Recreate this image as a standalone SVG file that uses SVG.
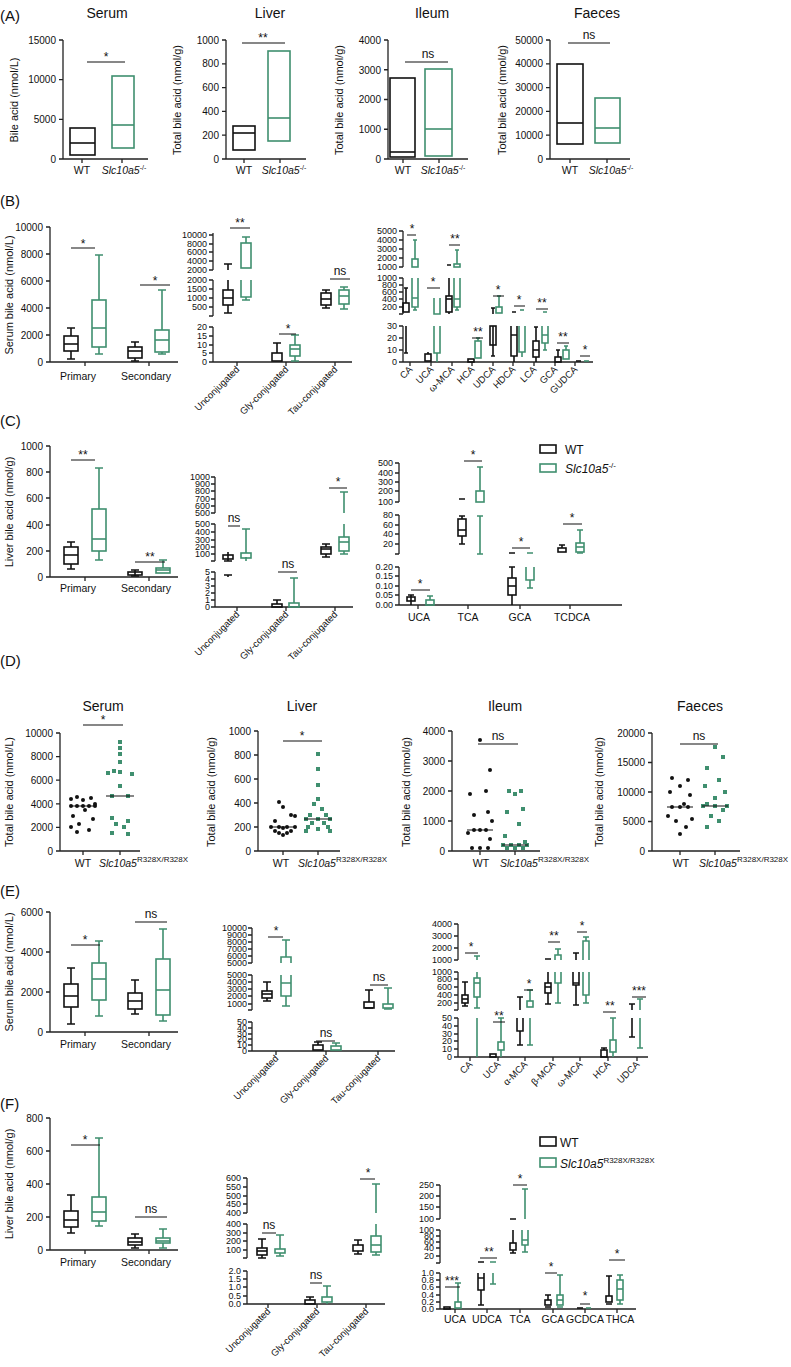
<svg xmlns="http://www.w3.org/2000/svg" width="791" height="1367" viewBox="0 0 791 1367">
<style>
text{font-family:"Liberation Sans",Arial,sans-serif;fill:#111}
.ax{stroke:#222;stroke-width:1.3;fill:none}
.w{stroke:#111;stroke-width:1.6;fill:none}
.g{stroke:#3f8f6f;stroke-width:1.6;fill:none}
.sb{stroke:#111;stroke-width:1.2;fill:none}
.tk{font-size:10px;text-anchor:end}
.tks{font-size:9px;text-anchor:end}
.ttl{font-size:14px;text-anchor:middle}
.pl{font-size:15px}
.xl{font-size:10.5px;text-anchor:middle}
.xs{font-size:10.5px;text-anchor:start}
.rl{font-size:9.5px;text-anchor:end}
.yl{font-size:11px;text-anchor:middle}
.st{font-size:12px;text-anchor:middle}
.it{font-style:italic}
.dw{fill:#111}
.dg{fill:#3f8f6f}
</style>
<rect width="791" height="1367" fill="#fff"/>

<!-- ================= PANEL A ================= -->
<g id="panelA">
<text class="pl" x="0" y="21">(A)</text>
<text class="ttl" x="107" y="18">Serum</text>
<text class="ttl" x="270" y="18">Liver</text>
<text class="ttl" x="432" y="18">Ileum</text>
<text class="ttl" x="597" y="18">Faeces</text>
<path class="ax" d="M63,40V159H148M59,40h4M59,79.7h4M59,119.3h4M59,159h4M82,159v4M122,159v4"/>
<text class="tk" x="56" y="44">15000</text><text class="tk" x="56" y="83">10000</text><text class="tk" x="56" y="123">5000</text><text class="tk" x="56" y="163">0</text>
<text class="yl" transform="translate(18,100) rotate(-90)">Bile acid (nmol/L)</text>
<rect class="w" x="70" y="128" width="25" height="27"/><path class="w" d="M70,143h25"/>
<rect class="g" x="112" y="76" width="22" height="72"/><path class="g" d="M112,125h22"/>
<path class="sb" d="M87,62H125"/><text class="st" x="106" y="61">*</text>
<text class="xl" x="82" y="174">WT</text><text class="xl" x="124" y="174"><tspan class="it">Slc10a5</tspan><tspan font-size="7" dy="-4">-/-</tspan></text>
<path class="ax" d="M226,40V159H306M222,40h4M222,63.8h4M222,87.6h4M222,111.4h4M222,135.2h4M222,159h4M244,159v4M280,159v4"/>
<text class="tk" x="219" y="44">1000</text><text class="tk" x="219" y="67">800</text><text class="tk" x="219" y="91">600</text><text class="tk" x="219" y="115">400</text><text class="tk" x="219" y="139">200</text><text class="tk" x="219" y="163">0</text>
<text class="yl" transform="translate(181,100) rotate(-90)">Total bile acid (nmol/g)</text>
<rect class="w" x="233" y="126" width="22" height="24"/><path class="w" d="M233,133h22"/>
<rect class="g" x="268" y="51" width="22" height="90"/><path class="g" d="M268,118h22"/>
<path class="sb" d="M242,43H285"/><text class="st" x="263" y="42">**</text>
<text class="xl" x="244" y="174">WT</text><text class="xl" x="284" y="174"><tspan class="it">Slc10a5</tspan><tspan font-size="7" dy="-4">-/-</tspan></text>
<path class="ax" d="M388,40V159H468M384,40h4M384,69.75h4M384,99.5h4M384,129.25h4M384,159h4M403,159v4M439,159v4"/>
<text class="tk" x="381" y="44">4000</text><text class="tk" x="381" y="74">3000</text><text class="tk" x="381" y="103">2000</text><text class="tk" x="381" y="133">1000</text><text class="tk" x="381" y="163">0</text>
<text class="yl" transform="translate(343,100) rotate(-90)">Total bile acid (nmol/g)</text>
<rect class="w" x="390" y="78" width="25" height="79"/><path class="w" d="M390,152h25"/>
<rect class="g" x="425" y="69" width="27" height="87"/><path class="g" d="M425,129h27"/>
<path class="sb" d="M405,62H448"/><text class="st" x="428" y="58" font-size="10">ns</text>
<text class="xl" x="403" y="174">WT</text><text class="xl" x="443" y="174"><tspan class="it">Slc10a5</tspan><tspan font-size="7" dy="-4">-/-</tspan></text>
<path class="ax" d="M550,40V159H630M546,40h4M546,63.8h4M546,87.6h4M546,111.4h4M546,135.2h4M546,159h4M570,159v4M607,159v4"/>
<text class="tk" x="543" y="44">50000</text><text class="tk" x="543" y="67">40000</text><text class="tk" x="543" y="91">30000</text><text class="tk" x="543" y="115">20000</text><text class="tk" x="543" y="139">10000</text><text class="tk" x="543" y="163">0</text>
<text class="yl" transform="translate(506,100) rotate(-90)">Total bile acid (nmol/g)</text>
<rect class="w" x="557" y="64" width="26" height="80"/><path class="w" d="M557,123h26"/>
<rect class="g" x="595" y="98" width="25" height="45"/><path class="g" d="M595,128h25"/>
<path class="sb" d="M568,43H610"/><text class="st" x="589" y="39" font-size="10">ns</text>
<text class="xl" x="570" y="174">WT</text><text class="xl" x="611" y="174"><tspan class="it">Slc10a5</tspan><tspan font-size="7" dy="-4">-/-</tspan></text>
</g>

<!-- ================= PANEL B ================= -->
<g id="panelB">
<text class="pl" x="0" y="206">(B)</text>
<path class="ax" d="M50,227V362H178M46,227h4M46,254h4M46,281h4M46,308h4M46,335h4M46,362h4M85,362v4M149,362v4"/>
<text class="tk" x="43" y="231">10000</text><text class="tk" x="43" y="258">8000</text><text class="tk" x="43" y="285">6000</text><text class="tk" x="43" y="312">4000</text><text class="tk" x="43" y="339">2000</text><text class="tk" x="43" y="366">0</text>
<text class="yl" transform="translate(13,295) rotate(-90)">Serum bile acid (nmol/L)</text>
<path class="w" d="M71,328V336M71,351V359M67,328h8M67,359h8"/><rect class="w" x="64" y="336" width="14" height="15"/><path class="w" d="M64,344h14"/>
<path class="g" d="M99,255V300M99,347V354M95,255h8M95,354h8"/><rect class="g" x="92" y="300" width="14" height="47"/><path class="g" d="M92,328h14"/>
<path class="w" d="M135,342V347M135,358V361M131,342h8M131,361h8"/><rect class="w" x="128" y="347" width="14" height="11"/><path class="w" d="M128,351h14"/>
<path class="g" d="M162,290V330M162,352V354M158,290h8M158,354h8"/><rect class="g" x="155" y="330" width="14" height="22"/><path class="g" d="M155,340h14"/>
<path class="sb" d="M71,248H95M140,285H170"/><text class="st" x="83" y="248">*</text><text class="st" x="155" y="285">*</text>
<text class="xl" x="78" y="380">Primary</text><text class="xl" x="146" y="380">Secondary</text>

<path class="ax" d="M213,233V270M213,280V316M213,327V362H352M209,235h4M209,244h4M209,252h4M209,261h4M209,270h4M209,280h4M209,289h4M209,298h4M209,307h4M209,316h4M209,327h4M209,336h4M209,345h4M209,353h4M209,362h4M237,362v4M286,362v4M335,362v4"/>
<g class="tks"><text x="207" y="238">10000</text><text x="207" y="247">8000</text><text x="207" y="255">6000</text><text x="207" y="264">4000</text><text x="207" y="273">2000</text><text x="207" y="283">2000</text><text x="207" y="292">1500</text><text x="207" y="301">1000</text><text x="207" y="310">500</text><text x="207" y="330">20</text><text x="207" y="339">15</text><text x="207" y="348">10</text><text x="207" y="356">5</text><text x="207" y="365">0</text></g>
<path class="w" d="M228,264V270M224,264h8M228,280V290M228,305V313M224,313h8"/><rect class="w" x="223" y="290" width="10" height="15"/><path class="w" d="M223,298h10"/>
<path class="g" d="M246,237V243M242,237h8M246,297V300M242,300h8"/><rect class="g" x="241" y="243" width="10" height="25"/><path class="g" d="M241,280V297H251V280"/>
<path class="w" d="M277,343V353M273,343h8"/><rect class="w" x="272" y="353" width="10" height="8"/>
<path class="g" d="M295,335V345M295,356V361M291,335h8M291,361h8"/><rect class="g" x="290" y="345" width="10" height="11"/><path class="g" d="M290,349h10"/>
<path class="w" d="M326,290V293M326,305V308M322,290h8M322,308h8"/><rect class="w" x="321" y="293" width="10" height="12"/><path class="w" d="M321,299h10"/>
<path class="g" d="M344,287V290M344,304V309M340,287h8M340,309h8"/><rect class="g" x="339" y="290" width="10" height="14"/><path class="g" d="M339,296h10"/>
<path class="sb" d="M230,228H250M279,334H296M330,279H350"/><text class="st" x="240" y="227">**</text><text class="st" x="288" y="333">*</text><text class="st" x="340" y="275" font-size="10">ns</text>
<g class="rl"><text transform="translate(240,370) rotate(-45)">Unconjugated</text><text transform="translate(289,370) rotate(-45)">Gly-conjugated</text><text transform="translate(338,370) rotate(-45)">Tau-conjugated</text></g>

<path class="ax" d="M403,231V267M403,278V314M403,326V362H593M399,231h4M399,240h4M399,249h4M399,258h4M399,267h4M399,278h4M399,285h4M399,292h4M399,299h4M399,307h4M399,314h4M399,326h4M399,338h4M399,350h4M399,362h4M410,362v4M431,362v4M452,362v4M472,362v4M493,362v4M513,362v4M534,362v4M555,362v4M575,362v4"/>
<g class="tks"><text x="397" y="234">5000</text><text x="397" y="243">4000</text><text x="397" y="252">3000</text><text x="397" y="261">2000</text><text x="397" y="270">1000</text><text x="397" y="281">1000</text><text x="397" y="288">800</text><text x="397" y="295">600</text><text x="397" y="302">400</text><text x="397" y="310">200</text><text x="397" y="329">30</text><text x="397" y="341">20</text><text x="397" y="353">10</text><text x="397" y="365">0</text></g>
<path class="w" d="M406,288V303M404,288h4M406,326V353M404,353h4"/><rect class="w" x="403" y="303" width="6" height="9"/>
<path class="g" d="M415,240V259M413,240h4M415,307V310M413,310h4"/><rect class="g" x="412" y="259" width="6" height="8"/><path class="g" d="M412,278V307H418V278M412,298h6"/>
<rect class="w" x="425" y="354" width="6" height="7"/><path class="w" d="M428,352V354"/>
<path class="g" d="M434,298V314H440V298M434,326V353H440V326M437,353V362"/>
<path class="w" d="M447,265h4M449,278V296M449,312V314"/><rect class="w" x="446" y="296" width="6" height="16"/><path class="w" d="M446,299h6"/>
<path class="g" d="M457,250V264M455,250h4M457,307V310M455,310h4"/><rect class="g" x="454" y="264" width="6" height="3"/><path class="g" d="M454,278V307H460V278M454,299h6"/>
<rect class="w" x="468" y="359" width="6" height="3"/>
<path class="g" d="M478,338V341M476,338h4"/><rect class="g" x="475" y="341" width="6" height="17"/>
<path class="w" d="M491,308h4M493,308V314M493,326V356M491,356h4"/><rect class="w" x="490" y="326" width="6" height="19"/>
<path class="g" d="M499,296V307M497,296h4"/><rect class="g" x="496" y="307" width="6" height="6"/>
<path class="w" d="M512,312h4M514,356V362"/><path class="w" d="M511,326V356H517V326M511,335h6"/>
<path class="g" d="M520,310h4"/><path class="g" d="M519,326V352H525V326M522,352V357"/>
<path class="w" d="M536,327V341M536,357V362M534,327h4"/><rect class="w" x="533" y="341" width="6" height="16"/><path class="w" d="M533,350h6"/>
<path class="g" d="M543,312h4M545,343V350M543,350h4"/><path class="g" d="M542,326V343H548V326M542,335h6"/>
<path class="w" d="M558,350V357M556,350h4"/><rect class="w" x="555" y="357" width="6" height="5"/>
<path class="g" d="M566,346V350M564,346h4"/><rect class="g" x="563" y="350" width="6" height="9"/>
<path class="w" d="M576,361h5"/><path class="g" d="M584,361h5"/>
<path class="sb" d="M407,235H416M427,288H440M449,245H460M472,338H483M493,296H504M514,306H525M536,309H548M557,343H569M580,356H590"/>
<g class="st" font-size="11"><text x="412" y="233">*</text><text x="433" y="286">*</text><text x="455" y="243">**</text><text x="478" y="336">**</text><text x="498" y="294">*</text><text x="519" y="304">*</text><text x="542" y="307">**</text><text x="563" y="341">**</text><text x="585" y="354">*</text></g>
<g class="rl"><text transform="translate(413,370) rotate(-45)">CA</text><text transform="translate(434,370) rotate(-45)">UCA</text><text transform="translate(455,370) rotate(-45)">ω-MCA</text><text transform="translate(475,370) rotate(-45)">HCA</text><text transform="translate(496,370) rotate(-45)">UDCA</text><text transform="translate(516,370) rotate(-45)">HDCA</text><text transform="translate(537,370) rotate(-45)">LCA</text><text transform="translate(558,370) rotate(-45)">GCA</text><text transform="translate(578,370) rotate(-45)">GUDCA</text></g>
</g>

<!-- ================= PANEL C ================= -->
<g id="panelC">
<text class="pl" x="0" y="426">(C)</text>
<path class="ax" d="M50,446V577H178M46,446h4M46,472h4M46,498h4M46,525h4M46,551h4M46,577h4M85,577v4M149,577v4"/>
<text class="tk" x="43" y="450">1000</text><text class="tk" x="43" y="476">800</text><text class="tk" x="43" y="502">600</text><text class="tk" x="43" y="529">400</text><text class="tk" x="43" y="555">200</text><text class="tk" x="43" y="581">0</text>
<text class="yl" transform="translate(13,512) rotate(-90)">Liver bile acid (nmol/g)</text>
<path class="w" d="M71,542V547M71,564V569M67,542h8M67,569h8"/><rect class="w" x="64" y="547" width="14" height="17"/><path class="w" d="M64,555h14"/>
<path class="g" d="M99,468V509M99,551V560M95,468h8M95,560h8"/><rect class="g" x="92" y="509" width="14" height="42"/><path class="g" d="M92,539h14"/>
<path class="w" d="M131,570h8M131,576h8M135,570V576"/><rect class="w" x="128" y="572" width="14" height="3"/>
<path class="g" d="M159,560h8M163,560V568"/><rect class="g" x="156" y="568" width="14" height="5"/><path class="g" d="M156,570h14"/>
<path class="sb" d="M71,460H95M135,562H165"/><text class="st" x="83" y="459">**</text><text class="st" x="150" y="561">**</text>
<text class="xl" x="78" y="592">Primary</text><text class="xl" x="146" y="592">Secondary</text>

<path class="ax" d="M215,477V513M215,524V561M215,572V607H353M211,477h4M211,484h4M211,491h4M211,499h4M211,506h4M211,513h4M211,524h4M211,532h4M211,540h4M211,547h4M211,554h4M211,561h4M211,572h4M211,579h4M211,586h4M211,593h4M211,600h4M211,607h4M237,607v4M286,607v4M335,607v4"/>
<g class="tks" font-size="8"><text x="210" y="480">1000</text><text x="210" y="487">900</text><text x="210" y="494">800</text><text x="210" y="502">700</text><text x="210" y="509">600</text><text x="210" y="516">500</text><text x="210" y="527">500</text><text x="210" y="535">400</text><text x="210" y="543">300</text><text x="210" y="550">200</text><text x="210" y="557">100</text><text x="210" y="575">5</text><text x="210" y="582">4</text><text x="210" y="589">3</text><text x="210" y="596">2</text><text x="210" y="603">1</text><text x="210" y="610">0</text></g>
<path class="w" d="M228,552V561M224,561h8M224,575h8M228,575V577"/><rect class="w" x="223" y="555" width="10" height="4"/>
<path class="g" d="M246,529V553M242,529h8M246,557V561"/><rect class="g" x="241" y="553" width="10" height="5"/>
<path class="w" d="M277,600V604M273,600h8"/><rect class="w" x="272" y="604" width="10" height="3"/>
<path class="g" d="M294,578V603M290,578h8"/><rect class="g" x="289" y="603" width="10" height="4"/>
<path class="w" d="M326,544V547M326,554V557M322,544h8M322,557h8"/><rect class="w" x="321" y="547" width="10" height="7"/><path class="w" d="M321,549h10"/>
<path class="g" d="M344,492V513M340,492h8M344,524V537M344,551V554M340,554h8"/><rect class="g" x="339" y="537" width="10" height="14"/><path class="g" d="M339,542h10"/>
<path class="sb" d="M228,526H240M278,572H297M329,488H347"/><text class="st" x="234" y="522" font-size="10">ns</text><text class="st" x="288" y="568" font-size="10">ns</text><text class="st" x="338" y="486">*</text>
<g class="rl"><text transform="translate(240,615) rotate(-45)">Unconjugated</text><text transform="translate(289,615) rotate(-45)">Gly-conjugated</text><text transform="translate(338,615) rotate(-45)">Tau-conjugated</text></g>

<path class="ax" d="M399,463V502M399,515V554M399,567V605H622M395,463h4M395,473h4M395,482h4M395,491h4M395,502h4M395,515h4M395,525h4M395,534h4M395,544h4M395,554h4M395,567h4M395,576h4M395,586h4M395,595h4M395,605h4M418,605v4M468,605v4M520,605v4M570,605v4"/>
<g class="tks"><text x="393" y="466">500</text><text x="393" y="476">400</text><text x="393" y="485">300</text><text x="393" y="494">200</text><text x="393" y="505">100</text><text x="393" y="518">80</text><text x="393" y="528">60</text><text x="393" y="537">40</text><text x="393" y="547">20</text><text x="393" y="570">0.20</text><text x="393" y="579">0.15</text><text x="393" y="589">0.10</text><text x="393" y="598">0.05</text><text x="393" y="608">0.00</text></g>
<path class="w" d="M411,595V605M408,595h6"/><rect class="w" x="407" y="597" width="8" height="4"/>
<path class="g" d="M430,596V600M427,596h6"/><rect class="g" x="426" y="600" width="8" height="5"/>
<path class="w" d="M459,499h6M462,516V519M462,536V544M459,516h6M459,544h6"/><rect class="w" x="458" y="519" width="8" height="17"/><path class="w" d="M458,530h8"/>
<path class="g" d="M480,467V491M477,467h6M480,516V554M477,516h6M477,554h6"/><rect class="g" x="476" y="491" width="8" height="11"/>
<path class="w" d="M509,553h6M512,567V578M512,595V605M509,567h6"/><rect class="w" x="508" y="578" width="8" height="17"/><path class="w" d="M508,586h8"/>
<path class="g" d="M527,553h6M530,580V588M527,588h6"/><path class="g" d="M526,567V580H534V567"/>
<path class="w" d="M562,545V548M559,545h6"/><rect class="w" x="558" y="548" width="8" height="4" fill="#111"/>
<path class="g" d="M580,530V543M577,530h6M577,553h6"/><rect class="g" x="576" y="543" width="8" height="9"/><path class="g" d="M576,547h8"/>
<path class="sb" d="M411,590H430M464,461H482M512,548H530M563,524H582"/>
<g class="st" font-size="11"><text x="420" y="588">*</text><text x="473" y="459">*</text><text x="521" y="546">*</text><text x="572" y="522">*</text></g>
<g class="xl" font-size="10"><text x="419" y="621">UCA</text><text x="468" y="621">TCA</text><text x="520" y="621">GCA</text><text x="572" y="621">TCDCA</text></g>
<rect class="w" x="540" y="445" width="16" height="8"/><text x="565" y="454" font-size="12">WT</text>
<rect class="g" x="540" y="464" width="16" height="8"/><text x="565" y="473" font-size="12"><tspan class="it">Slc10a5</tspan><tspan font-size="8" dy="-5">-/-</tspan></text>
</g>

<!-- ================= PANEL D ================= -->
<g id="panelD">
<text class="pl" x="0" y="666">(D)</text>
<text class="ttl" x="103" y="711">Serum</text><text class="ttl" x="302" y="711">Liver</text><text class="ttl" x="505" y="711">Ileum</text><text class="ttl" x="700" y="711">Faeces</text>
<path class="ax" d="M60,733V851H140M56,733h4M56,756.6h4M56,780.2h4M56,803.8h4M56,827.4h4M56,851h4M83,851v4M120,851v4"/>
<text class="tk" x="53" y="737">10000</text><text class="tk" x="53" y="760">8000</text><text class="tk" x="53" y="784">6000</text><text class="tk" x="53" y="808">4000</text><text class="tk" x="53" y="831">2000</text><text class="tk" x="53" y="855">0</text>
<text class="yl" transform="translate(13,792) rotate(-90)">Total bile acid (nmol/L)</text>
<g class="dw"><circle cx="77" cy="797" r="2"/><circle cx="91" cy="798" r="2"/><circle cx="71" cy="799" r="2"/><circle cx="83" cy="800" r="2"/><circle cx="95" cy="804" r="2"/><circle cx="71" cy="806" r="2"/><circle cx="77" cy="806" r="2"/><circle cx="83" cy="806" r="2"/><circle cx="89" cy="806" r="2"/><circle cx="95" cy="806" r="2"/><circle cx="85" cy="810" r="2"/><circle cx="73" cy="816" r="2"/><circle cx="93" cy="819" r="2"/><circle cx="79" cy="824" r="2"/><circle cx="71" cy="827" r="2"/><circle cx="89" cy="830" r="2"/><circle cx="77" cy="832" r="2"/></g>
<g class="dg"><rect x="118" y="740" width="4" height="4"/><rect x="118" y="746" width="4" height="4"/><rect x="118" y="752" width="4" height="4"/><rect x="118" y="760" width="4" height="4"/><rect x="112" y="769" width="4" height="4"/><rect x="118" y="770" width="4" height="4"/><rect x="106" y="771" width="4" height="4"/><rect x="130" y="772" width="4" height="4"/><rect x="118" y="784" width="4" height="4"/><rect x="110" y="794" width="4" height="4"/><rect x="126" y="794" width="4" height="4"/><rect x="110" y="816" width="4" height="4"/><rect x="126" y="819" width="4" height="4"/><rect x="114" y="822" width="4" height="4"/><rect x="122" y="825" width="4" height="4"/><rect x="110" y="831" width="4" height="4"/><rect x="126" y="832" width="4" height="4"/></g>
<path class="sb" d="M70,806H96M106,796H134M83,725H123"/><text class="st" x="103" y="724">*</text>
<text class="xl" x="83" y="867">WT</text><text class="xs" x="99" y="867"><tspan class="it">Slc10a5</tspan><tspan font-size="8" dy="-5">R328X/R328X</tspan></text>
<path class="ax" d="M258,731V851H340M254,731h4M254,755h4M254,779h4M254,803h4M254,827h4M254,851h4M283,851v4M318,851v4"/>
<text class="tk" x="251" y="735">1000</text><text class="tk" x="251" y="759">800</text><text class="tk" x="251" y="783">600</text><text class="tk" x="251" y="807">400</text><text class="tk" x="251" y="831">200</text><text class="tk" x="251" y="855">0</text>
<text class="yl" transform="translate(215,792) rotate(-90)">Total bile acid (nmol/g)</text>
<g class="dw"><circle cx="279" cy="802" r="2"/><circle cx="283" cy="807" r="2"/><circle cx="291" cy="815" r="2"/><circle cx="295" cy="816" r="2"/><circle cx="275" cy="821" r="2"/><circle cx="271" cy="827" r="2"/><circle cx="279" cy="827" r="2"/><circle cx="287" cy="827" r="2"/><circle cx="295" cy="827" r="2"/><circle cx="283" cy="828" r="2"/><circle cx="275" cy="831" r="2"/><circle cx="291" cy="831" r="2"/><circle cx="279" cy="833" r="2"/><circle cx="287" cy="833" r="2"/><circle cx="283" cy="835" r="2"/></g>
<g class="dg"><rect x="316" y="752" width="4" height="4"/><rect x="316" y="767" width="4" height="4"/><rect x="316" y="783" width="4" height="4"/><rect x="316" y="797" width="4" height="4"/><rect x="312" y="802" width="4" height="4"/><rect x="320" y="807" width="4" height="4"/><rect x="308" y="813" width="4" height="4"/><rect x="324" y="813" width="4" height="4"/><rect x="304" y="817" width="4" height="4"/><rect x="316" y="817" width="4" height="4"/><rect x="328" y="817" width="4" height="4"/><rect x="310" y="821" width="4" height="4"/><rect x="322" y="821" width="4" height="4"/><rect x="306" y="825" width="4" height="4"/><rect x="326" y="825" width="4" height="4"/><rect x="316" y="827" width="4" height="4"/><rect x="304" y="829" width="4" height="4"/><rect x="328" y="829" width="4" height="4"/></g>
<path class="sb" d="M270,827H296M304,819H332M283,741H322"/><text class="st" x="302" y="740">*</text>
<text class="xl" x="281" y="867">WT</text><text class="xs" x="298" y="867"><tspan class="it">Slc10a5</tspan><tspan font-size="8" dy="-5">R328X/R328X</tspan></text>
<path class="ax" d="M452,731V851H540M448,731h4M448,761h4M448,791h4M448,821h4M448,851h4M480,851v4M515,851v4"/>
<text class="tk" x="445" y="735">4000</text><text class="tk" x="445" y="765">3000</text><text class="tk" x="445" y="795">2000</text><text class="tk" x="445" y="825">1000</text><text class="tk" x="445" y="855">0</text>
<text class="yl" transform="translate(410,792) rotate(-90)">Total bile acid (nmol/g)</text>
<g class="dw"><circle cx="480" cy="740" r="2"/><circle cx="490" cy="770" r="2"/><circle cx="486" cy="791" r="2"/><circle cx="470" cy="794" r="2"/><circle cx="488" cy="812" r="2"/><circle cx="474" cy="815" r="2"/><circle cx="492" cy="821" r="2"/><circle cx="480" cy="830" r="2"/><circle cx="474" cy="830" r="2"/><circle cx="486" cy="830" r="2"/><circle cx="468" cy="833" r="2"/><circle cx="490" cy="839" r="2"/><circle cx="472" cy="848" r="2"/><circle cx="480" cy="848" r="2"/><circle cx="488" cy="848" r="2"/></g>
<g class="dg"><rect x="507" y="789" width="4" height="4"/><rect x="519" y="789" width="4" height="4"/><rect x="513" y="792" width="4" height="4"/><rect x="521" y="807" width="4" height="4"/><rect x="505" y="810" width="4" height="4"/><rect x="517" y="822" width="4" height="4"/><rect x="503" y="834" width="4" height="4"/><rect x="523" y="840" width="4" height="4"/><rect x="501" y="843" width="4" height="4"/><rect x="509" y="843" width="4" height="4"/><rect x="517" y="843" width="4" height="4"/><rect x="525" y="843" width="4" height="4"/><rect x="505" y="846" width="4" height="4"/><rect x="513" y="846" width="4" height="4"/><rect x="521" y="846" width="4" height="4"/></g>
<path class="sb" d="M467,830H493M502,845H528M478,744H518"/><text class="st" x="498" y="740" font-size="10">ns</text>
<text class="xl" x="481" y="867">WT</text><text class="xs" x="500" y="867"><tspan class="it">Slc10a5</tspan><tspan font-size="8" dy="-5">R328X/R328X</tspan></text>
<path class="ax" d="M652,733V851H740M648,733h4M648,762.5h4M648,792h4M648,821.5h4M648,851h4M680,851v4M715,851v4"/>
<text class="tk" x="645" y="737">20000</text><text class="tk" x="645" y="766">15000</text><text class="tk" x="645" y="796">10000</text><text class="tk" x="645" y="825">5000</text><text class="tk" x="645" y="855">0</text>
<text class="yl" transform="translate(603,792) rotate(-90)">Total bile acid (nmol/g)</text>
<g class="dw"><circle cx="672" cy="778" r="2"/><circle cx="688" cy="780" r="2"/><circle cx="680" cy="786" r="2"/><circle cx="670" cy="792" r="2"/><circle cx="690" cy="795" r="2"/><circle cx="684" cy="804" r="2"/><circle cx="672" cy="807" r="2"/><circle cx="680" cy="807" r="2"/><circle cx="688" cy="807" r="2"/><circle cx="668" cy="816" r="2"/><circle cx="692" cy="819" r="2"/><circle cx="676" cy="821" r="2"/><circle cx="686" cy="827" r="2"/><circle cx="680" cy="834" r="2"/></g>
<g class="dg"><rect x="713" y="745" width="4" height="4"/><rect x="721" y="755" width="4" height="4"/><rect x="705" y="766" width="4" height="4"/><rect x="717" y="778" width="4" height="4"/><rect x="703" y="784" width="4" height="4"/><rect x="723" y="790" width="4" height="4"/><rect x="713" y="796" width="4" height="4"/><rect x="705" y="802" width="4" height="4"/><rect x="701" y="804" width="4" height="4"/><rect x="713" y="804" width="4" height="4"/><rect x="725" y="804" width="4" height="4"/><rect x="721" y="808" width="4" height="4"/><rect x="709" y="814" width="4" height="4"/><rect x="717" y="819" width="4" height="4"/><rect x="705" y="825" width="4" height="4"/></g>
<path class="sb" d="M667,807H693M702,806H728M680,744H718"/><text class="st" x="699" y="740" font-size="10">ns</text>
<text class="xl" x="681" y="867">WT</text><text class="xs" x="699" y="867"><tspan class="it">Slc10a5</tspan><tspan font-size="8" dy="-5">R328X/R328X</tspan></text>
</g>

<!-- ================= PANEL E ================= -->
<g id="panelE">
<text class="pl" x="0" y="896">(E)</text>
<path class="ax" d="M50,912V1032H178M46,912h4M46,952h4M46,992h4M46,1032h4M85,1032v4M149,1032v4"/>
<text class="tk" x="43" y="916">6000</text><text class="tk" x="43" y="956">4000</text><text class="tk" x="43" y="996">2000</text><text class="tk" x="43" y="1036">0</text>
<text class="yl" transform="translate(13,972) rotate(-90)">Serum bile acid (nmol/L)</text>
<path class="w" d="M71,968V984M71,1007V1024M67,968h8M67,1024h8"/><rect class="w" x="64" y="984" width="14" height="23"/><path class="w" d="M64,996h14"/>
<path class="g" d="M99,941V963M99,1000V1016M95,941h8M95,1016h8"/><rect class="g" x="92" y="963" width="14" height="37"/><path class="g" d="M92,979h14"/>
<path class="w" d="M135,980V993M135,1009V1014M131,980h8M131,1014h8"/><rect class="w" x="128" y="993" width="14" height="16"/><path class="w" d="M128,1001h14"/>
<path class="g" d="M163,929V959M163,1015V1021M159,929h8M159,1021h8"/><rect class="g" x="156" y="959" width="14" height="56"/><path class="g" d="M156,990h14"/>
<path class="sb" d="M71,945H100M135,922H167"/><text class="st" x="85" y="944">*</text><text class="st" x="151" y="918" font-size="10">ns</text>
<text class="xl" x="78" y="1048">Primary</text><text class="xl" x="146" y="1048">Secondary</text>

<path class="ax" d="M252,928V963M252,975V1010M252,1022V1051H395M248,928h4M248,935h4M248,942h4M248,949h4M248,956h4M248,963h4M248,975h4M248,982h4M248,989h4M248,996h4M248,1004h4M248,1010h4M248,1022h4M248,1028h4M248,1034h4M248,1039h4M248,1045h4M248,1051h4M276,1051v4M326,1051v4M378,1051v4"/>
<g class="tks" font-size="7.5"><text x="247" y="931">10000</text><text x="247" y="938">9000</text><text x="247" y="945">8000</text><text x="247" y="952">7000</text><text x="247" y="959">6000</text><text x="247" y="966">5000</text><text x="247" y="978">5000</text><text x="247" y="985">4000</text><text x="247" y="992">3000</text><text x="247" y="999">2000</text><text x="247" y="1007">1000</text><text x="247" y="1025">50</text><text x="247" y="1031">40</text><text x="247" y="1037">30</text><text x="247" y="1042">20</text><text x="247" y="1048">10</text><text x="247" y="1054">0</text></g>
<path class="w" d="M267,982V991M267,998V1001M263,982h8M263,1001h8"/><rect class="w" x="262" y="991" width="10" height="7"/><path class="w" d="M262,994h10"/>
<path class="g" d="M286,940V957M282,940h8M286,996V1006M282,1006h8"/><path class="g" d="M281,963V957H291V963M281,975V996H291V975M281,983h10"/>
<path class="w" d="M318,1042V1045M314,1042h8"/><rect class="w" x="313" y="1045" width="10" height="5"/>
<path class="g" d="M336,1043V1046M332,1043h8"/><rect class="g" x="331" y="1046" width="10" height="4"/>
<path class="w" d="M369,990V1002M365,990h8M365,1008h8"/><rect class="w" x="364" y="1002" width="10" height="6"/>
<path class="g" d="M388,988V1004M384,988h8M384,1009h8"/><rect class="g" x="383" y="1004" width="10" height="4"/>
<path class="sb" d="M268,937H283M316,1041H335M370,985H388"/><text class="st" x="276" y="935">*</text><text class="st" x="326" y="1037" font-size="10">ns</text><text class="st" x="379" y="981" font-size="10">ns</text>
<g class="rl"><text transform="translate(279,1059) rotate(-45)">Unconjugated</text><text transform="translate(329,1059) rotate(-45)">Gly-conjugated</text><text transform="translate(381,1059) rotate(-45)">Tau-conjugated</text></g>

<path class="ax" d="M458,924V960M458,972V1010M458,1018V1057H648M454,924h4M454,936h4M454,948h4M454,960h4M454,972h4M454,979h4M454,987h4M454,995h4M454,1003h4M454,1010h4M454,1018h4M454,1026h4M454,1034h4M454,1041h4M454,1049h4M454,1057h4M470,1057v4M498,1057v4M525,1057v4M553,1057v4M580,1057v4M608,1057v4M637,1057v4"/>
<g class="tks"><text x="452" y="927">4000</text><text x="452" y="939">3000</text><text x="452" y="951">2000</text><text x="452" y="963">1000</text><text x="452" y="975">1000</text><text x="452" y="982">800</text><text x="452" y="990">600</text><text x="452" y="998">400</text><text x="452" y="1006">200</text><text x="452" y="1021">50</text><text x="452" y="1029">40</text><text x="452" y="1037">30</text><text x="452" y="1044">20</text><text x="452" y="1052">10</text><text x="452" y="1060">0</text></g>
<path class="w" d="M465,982V995M465,1003V1006M462,982h6M462,1006h6"/><rect class="w" x="462" y="995" width="6" height="8"/><path class="w" d="M462,999h6"/>
<path class="g" d="M477,956V960M474,956h6M477,972V978M477,997V1008M474,1008h6M477,1018V1057"/><rect class="g" x="474" y="978" width="6" height="19"/><path class="g" d="M474,983h6"/>
<rect class="w" x="490" y="1054" width="6" height="3"/>
<path class="g" d="M501,1018V1042M501,1050V1057M498,1018h6"/><rect class="g" x="498" y="1042" width="6" height="8"/>
<path class="w" d="M520,997V1010M517,997h6M520,1031V1045M517,1045h6"/><path class="w" d="M517,1018V1031H523V1018"/>
<path class="g" d="M530,990V1001M527,990h6M530,1018V1045M527,1045h6"/><rect class="g" x="527" y="1001" width="6" height="6"/>
<path class="w" d="M545,959h6M548,972V983M548,993V1004M545,1004h6"/><rect class="w" x="545" y="983" width="6" height="10"/><path class="w" d="M545,987h6"/>
<path class="g" d="M558,949V955M555,949h6M558,983V1003M555,1003h6"/><path class="g" d="M555,960V955H561V960M555,972V983H561V972"/>
<path class="w" d="M576,953V960M573,953h6M576,985V1005M573,1005h6"/><path class="w" d="M573,972V985H579V972M573,983h6"/>
<path class="g" d="M586,937V941M583,937h6M586,995V1003M583,1003h6"/><path class="g" d="M583,960V941H589V960M583,972V995H589V972"/>
<path class="w" d="M604,1048V1050M601,1048h6"/><rect class="w" x="601" y="1050" width="6" height="7"/>
<path class="g" d="M613,1018V1040M613,1052V1057M610,1018h6"/><rect class="g" x="610" y="1040" width="6" height="12"/>
<path class="w" d="M632,1018V1037M629,1037h6M632,1004V1010M629,1004h6"/>
<path class="g" d="M640,999V1010M637,999h6M640,1018V1048M637,1048h6"/>
<path class="sb" d="M465,953H478M493,1022H505M524,990H533M548,942H560M577,932H587M603,1012H616M632,997H646"/>
<g class="st" font-size="11"><text x="471" y="951">*</text><text x="499" y="1020">**</text><text x="529" y="988">*</text><text x="554" y="940">**</text><text x="582" y="930">*</text><text x="610" y="1010">**</text><text x="639" y="995">***</text></g>
<g class="rl"><text transform="translate(473,1065) rotate(-45)">CA</text><text transform="translate(501,1065) rotate(-45)">UCA</text><text transform="translate(528,1065) rotate(-45)">α-MCA</text><text transform="translate(556,1065) rotate(-45)">β-MCA</text><text transform="translate(583,1065) rotate(-45)">ω-MCA</text><text transform="translate(611,1065) rotate(-45)">HCA</text><text transform="translate(640,1065) rotate(-45)">UDCA</text></g>
</g>

<!-- ================= PANEL F ================= -->
<g id="panelF">
<text class="pl" x="0" y="1109">(F)</text>
<rect class="w" x="540" y="1137" width="16" height="9"/><text x="560" y="1147" font-size="12">WT</text>
<rect class="g" x="540" y="1158" width="16" height="9"/><text x="560" y="1168" font-size="12"><tspan class="it">Slc10a5</tspan><tspan font-size="8" dy="-5">R328X/R328X</tspan></text>
<path class="ax" d="M50,1118V1250H178M46,1118h4M46,1151h4M46,1184h4M46,1217h4M46,1250h4M85,1250v4M149,1250v4"/>
<text class="tk" x="43" y="1122">800</text><text class="tk" x="43" y="1155">600</text><text class="tk" x="43" y="1188">400</text><text class="tk" x="43" y="1221">200</text><text class="tk" x="43" y="1254">0</text>
<text class="yl" transform="translate(13,1184) rotate(-90)">Liver bile acid (nmol/g)</text>
<path class="w" d="M71,1195V1211M71,1227V1233M67,1195h8M67,1233h8"/><rect class="w" x="64" y="1211" width="14" height="16"/><path class="w" d="M64,1220h14"/>
<path class="g" d="M99,1138V1197M99,1221V1226M95,1138h8M95,1226h8"/><rect class="g" x="92" y="1197" width="14" height="24"/><path class="g" d="M92,1212h14"/>
<path class="w" d="M135,1234V1238M135,1245V1248M131,1234h8M131,1248h8"/><rect class="w" x="128" y="1238" width="14" height="7"/><path class="w" d="M128,1242h14"/>
<path class="g" d="M163,1229V1238M163,1243V1248M159,1229h8M159,1248h8"/><rect class="g" x="156" y="1238" width="14" height="5"/><path class="g" d="M156,1241h14"/>
<path class="sb" d="M71,1145H100M135,1217H167"/><text class="st" x="85" y="1144">*</text><text class="st" x="151" y="1213" font-size="10">ns</text>
<text class="xl" x="78" y="1266">Primary</text><text class="xl" x="146" y="1266">Secondary</text>

<path class="ax" d="M247,1178V1213M247,1224V1258M247,1271V1304H385M243,1178h4M243,1187h4M243,1196h4M243,1204h4M243,1213h4M243,1224h4M243,1233h4M243,1241h4M243,1250h4M243,1258h4M243,1271h4M243,1279h4M243,1287h4M243,1296h4M243,1304h4M268,1304v4M317,1304v4M366,1304v4"/>
<g class="tks"><text x="241" y="1181">600</text><text x="241" y="1190">550</text><text x="241" y="1199">500</text><text x="241" y="1207">450</text><text x="241" y="1216">400</text><text x="241" y="1227">400</text><text x="241" y="1236">300</text><text x="241" y="1244">200</text><text x="241" y="1253">100</text><text x="241" y="1274">2.0</text><text x="241" y="1282">1.5</text><text x="241" y="1290">1.0</text><text x="241" y="1299">0.5</text><text x="241" y="1307">0.0</text></g>
<path class="w" d="M262,1239V1248M262,1255V1258M258,1239h8M258,1258h8"/><rect class="w" x="257" y="1248" width="10" height="7"/><path class="w" d="M257,1251h10"/>
<path class="g" d="M280,1235V1249M280,1253V1256M276,1235h8M276,1256h8"/><rect class="g" x="275" y="1249" width="10" height="4"/>
<path class="w" d="M310,1297V1300M306,1297h8"/><rect class="w" x="305" y="1300" width="10" height="4" fill="#111"/>
<path class="g" d="M327,1286V1297M327,1302V1304M323,1286h8"/><rect class="g" x="322" y="1297" width="10" height="5"/>
<path class="w" d="M358,1240V1245M358,1251V1254M354,1240h8M354,1254h8"/><rect class="w" x="353" y="1245" width="10" height="6"/>
<path class="g" d="M376,1184V1213M372,1184h8M376,1224V1236M376,1252V1255M372,1255h8"/><rect class="g" x="371" y="1236" width="10" height="16"/><path class="g" d="M371,1245h10"/>
<path class="sb" d="M262,1233H276M310,1283H322M360,1179H375"/><text class="st" x="269" y="1229" font-size="10">ns</text><text class="st" x="316" y="1279" font-size="10">ns</text><text class="st" x="368" y="1177">*</text>
<g class="rl"><text transform="translate(271,1312) rotate(-45)">Unconjugated</text><text transform="translate(320,1312) rotate(-45)">Gly-conjugated</text><text transform="translate(369,1312) rotate(-45)">Tau-conjugated</text></g>

<path class="ax" d="M440,1185V1219M440,1230V1263M440,1273V1309H636M436,1185h4M436,1196h4M436,1207h4M436,1219h4M436,1230h4M436,1236h4M436,1242h4M436,1248h4M436,1256h4M436,1263h4M436,1273h4M436,1280h4M436,1287h4M436,1295h4M436,1302h4M436,1309h4M455,1309v4M487,1309v4M520,1309v4M553,1309v4M585,1309v4M617,1309v4"/>
<g class="tks" font-size="8"><text x="434" y="1188">250</text><text x="434" y="1199">200</text><text x="434" y="1210">150</text><text x="434" y="1222">100</text><text x="434" y="1233">100</text><text x="434" y="1239">80</text><text x="434" y="1245">60</text><text x="434" y="1251">40</text><text x="434" y="1259">20</text><text x="434" y="1276">1.0</text><text x="434" y="1283">0.8</text><text x="434" y="1290">0.6</text><text x="434" y="1298">0.4</text><text x="434" y="1305">0.2</text><text x="434" y="1312">0.0</text></g>
<rect class="w" x="444" y="1307" width="6" height="2" fill="#111"/>
<path class="g" d="M458,1283V1302M455,1283h6"/><rect class="g" x="455" y="1302" width="6" height="6" fill="#3f8f6f"/>
<path class="w" d="M478,1262h6M481,1290V1305M478,1305h6"/><path class="w" d="M478,1273V1290H484V1273M478,1278h6"/>
<path class="g" d="M490,1262h6M493,1273V1284M490,1284h6"/>
<path class="w" d="M510,1219h6M513,1230V1243M513,1250V1253M510,1253h6"/><rect class="w" x="510" y="1243" width="6" height="7"/>
<path class="g" d="M525,1189V1219M522,1189h6M525,1245V1252M522,1252h6"/><path class="g" d="M522,1230V1245H528V1230M522,1240h6"/>
<path class="w" d="M548,1295V1300M545,1295h6M545,1307h6"/><rect class="w" x="545" y="1300" width="6" height="5"/>
<path class="g" d="M560,1275V1295M557,1275h6M557,1307h6"/><rect class="g" x="557" y="1295" width="6" height="10"/><path class="g" d="M557,1300h6"/>
<path class="w" d="M577,1308h6"/><path class="g" d="M586,1308h5"/>
<path class="w" d="M609,1276V1296M606,1276h6M606,1304h6"/><rect class="w" x="606" y="1296" width="6" height="6"/>
<path class="g" d="M620,1275V1280M617,1275h6M620,1300V1304M617,1304h6"/><rect class="g" x="617" y="1280" width="6" height="20"/><path class="g" d="M617,1289h6"/>
<path class="sb" d="M445,1287H460M480,1258H497M513,1185H527M545,1273H557M580,1304H590M609,1260H625"/>
<g class="st" font-size="11"><text x="452" y="1285">***</text><text x="489" y="1256">**</text><text x="520" y="1183">*</text><text x="551" y="1271">*</text><text x="585" y="1300">*</text><text x="617" y="1258">*</text></g>
<g class="xl" font-size="9.5"><text x="455" y="1323">UCA</text><text x="487" y="1323">UDCA</text><text x="520" y="1323">TCA</text><text x="553" y="1323">GCA</text><text x="585" y="1323">GCDCA</text><text x="620" y="1323">THCA</text></g>
</g>
</svg>
